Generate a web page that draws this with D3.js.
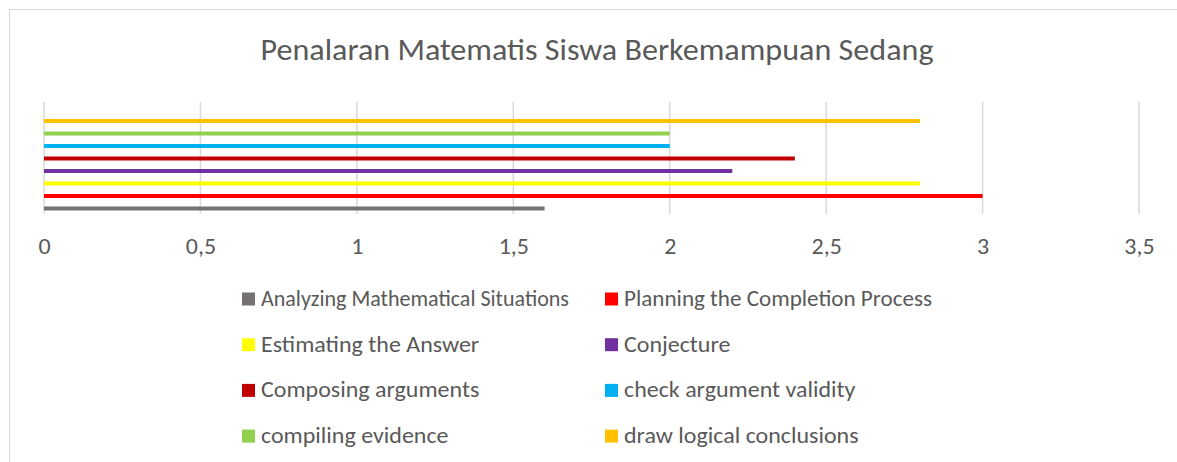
<!DOCTYPE html>
<html>
<head>
  <meta charset="utf-8">
  <title>Penalaran Matematis</title>
  <script src="https://d3js.org/d3.v7.min.js"></script>
  <style>
    html, body { margin: 0; height: 100%; overflow: hidden; background: #fff; }
    #chart { width: 1177px; height: 462px; }
    text { font-family: Carlito, "Open Sans", sans-serif; fill: #595959; }
  </style>
</head>
<body>
  <div id="chart"></div>
  <script>
    const seriesNames = [
      'Analyzing Mathematical Situations', 'Planning the Completion Process',
      'Estimating the Answer', 'Conjecture',
      'Composing arguments', 'check argument validity',
      'compiling evidence', 'draw logical conclusions'
    ];
    const seriesValues = [1.6, 3.0, 2.8, 2.2, 2.4, 2.0, 2.0, 2.8];
    const seriesColors = ['#767171', '#FF0000', '#FFFF00', '#7030A0', '#C00000', '#00B0F0', '#92D050', '#FFC000'];
    const tickValues = [0, 0.5, 1, 1.5, 2, 2.5, 3, 3.5];

    const W = 1177, H = 462;
    const stretch = 1.09; // text in the picture is a bit wider than Carlito
    const svg = d3.select('#chart')
      .append('svg')
      .attr('width', W)
      .attr('height', H);

    // chart frame
    svg.append('rect')
      .attr('x', 9.5).attr('y', 9.5)
      .attr('width', W + 10).attr('height', H + 10)
      .attr('fill', '#fff')
      .attr('stroke', '#d9d9d9');

    svg.append('text')
      .attr('x', 597).attr('y', 59.5)
      .attr('text-anchor', 'middle')
      .attr('font-size', '31px')
      .attr('textLength', 673)
      .attr('lengthAdjust', 'spacingAndGlyphs')
      .text('Penalaran Matematis Siswa Berkemampuan Sedang');

    const x = d3.scaleLinear().domain([0, 3.5]).range([44, 1139]);
    const y = d3.scalePoint()
      .domain(d3.range(seriesNames.length).reverse())
      .range([121, 208.5]);

    // gridlines
    svg.append('g')
      .selectAll('line')
      .data(tickValues)
      .enter().append('line')
      .attr('x1', d => x(d)).attr('x2', d => x(d))
      .attr('y1', 102).attr('y2', 214)
      .attr('stroke', '#d9d9d9')
      .attr('stroke-width', 1.5);

    // bars
    svg.append('g')
      .selectAll('rect')
      .data(seriesValues)
      .enter().append('rect')
      .attr('x', x(0))
      .attr('y', (d, i) => y(i) - 2)
      .attr('width', d => x(d) - x(0))
      .attr('height', 4)
      .attr('fill', (d, i) => seriesColors[i]);

    function widen(sel, maxW) {
      sel.each(function () {
        const len = this.getComputedTextLength();
        d3.select(this)
          .attr('textLength', Math.min(len * stretch, maxW || 1e9))
          .attr('lengthAdjust', 'spacingAndGlyphs');
      });
    }

    // axis labels
    const fmt = d => String(d).replace('.', ',');
    const axis = d3.axisBottom(x).tickValues(tickValues).tickFormat(fmt).tickSize(0).tickPadding(0);
    const gx = svg.append('g')
      .attr('transform', 'translate(0,253.5)')
      .call(axis);
    gx.select('.domain').remove();
    gx.selectAll('text')
      .attr('dy', null)
      .attr('font-size', '22px')
      .attr('fill', '#595959')
      .style('font-family', 'Carlito, "Open Sans", sans-serif')
      .call(widen);

    // legend
    const legend = svg.append('g')
      .selectAll('g')
      .data(seriesNames)
      .enter().append('g')
      .attr('transform', (d, i) => `translate(${i % 2 ? 605 : 242},${299 + Math.floor(i / 2) * 45.7})`);
    legend.append('rect')
      .attr('x', 0).attr('y', -6.5)
      .attr('width', 13).attr('height', 13)
      .attr('fill', (d, i) => seriesColors[i]);
    legend.append('text')
      .attr('x', 19)
      .attr('y', 7)
      .attr('font-size', '22px')
      .text(d => d)
      .call(widen, 308);
  </script>
</body>
</html>
